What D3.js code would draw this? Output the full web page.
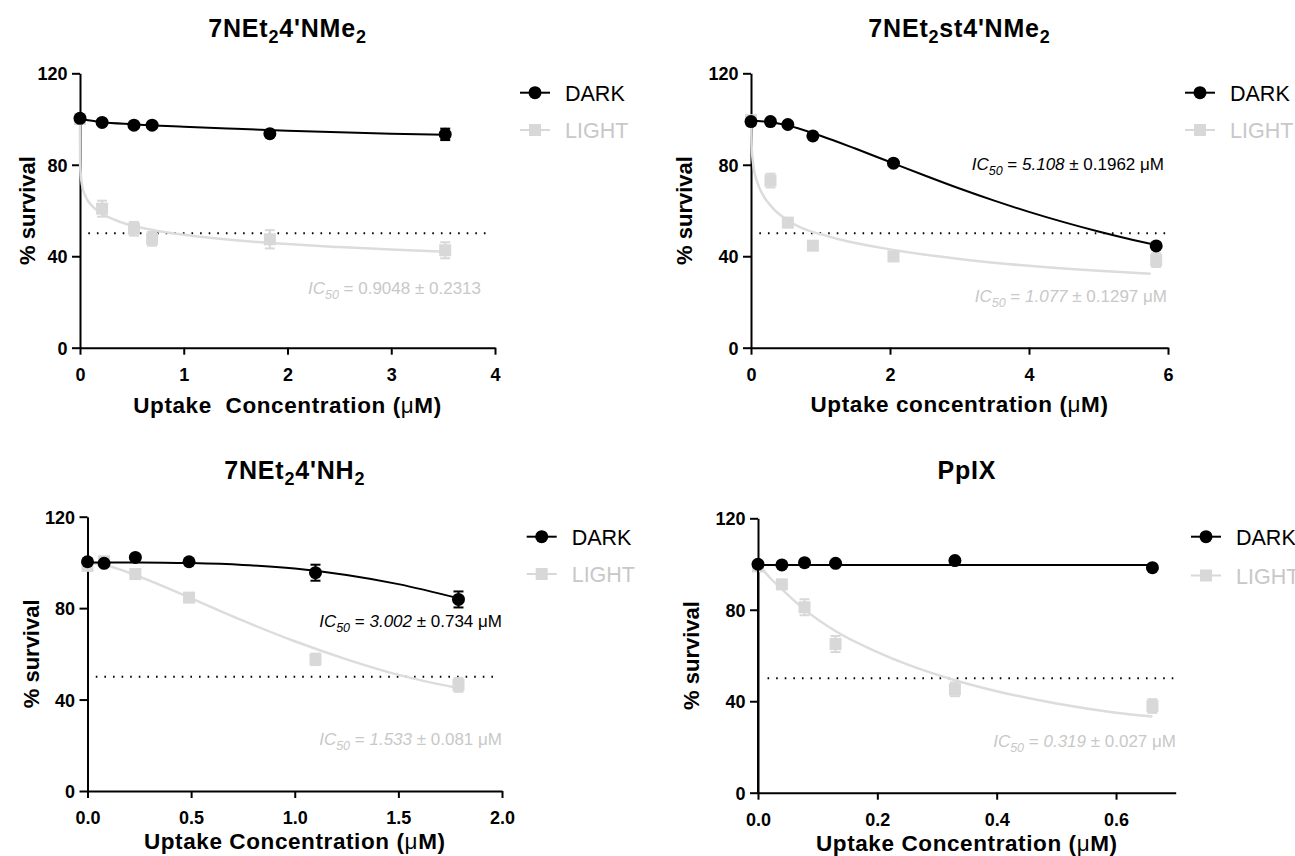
<!DOCTYPE html>
<html>
<head>
<meta charset="utf-8">
<style>
  body { margin: 0; background: #fff; }
  svg text { font-family: "Liberation Sans", Arial, sans-serif; }
</style>
</head>
<body>
<svg id="chart" width="1295" height="856"></svg>
<script src="https://cdnjs.cloudflare.com/ajax/libs/d3/7.8.5/d3.min.js"></script>
<script>
// ---- data ----
const seriesNames = ["DARK", "LIGHT"];
const yTickValues = [0, 40, 80, 120];

// 7NEt2 4'NMe2
const p1X = [0, 0.213, 0.52, 0.695, 1.83, 3.52];
const p1Dark = [100.3, 98.5, 97.3, 97.3, 93.6, 93.3];
const p1DarkErr = [0, 0, 0, 0, 1, 2.5];
const p1Light = [100, 60.8, 52.0, 47.6, 47.4, 42.6];
const p1LightErr = [0, 3.5, 3, 3, 4, 3.5];
const p1DarkFit = [[0, 100], [0.2, 98.7], [0.5, 97.7], [1, 96.6], [1.5, 95.7], [2, 94.9], [2.5, 94.2], [3, 93.6], [3.52, 93.1]];
const p1LightFit = [[0, 100], [0.0005, 85], [0.002, 80], [0.005, 77], [0.02, 71], [0.05, 66.5], [0.1, 62.8], [0.2, 59], [0.4, 54.8], [0.7, 51.5], [1, 49.4], [1.5, 47], [2, 45.3], [2.5, 44], [3, 42.9], [3.52, 42]];

// 7NEt2 st4'NMe2
const p2X = [0, 0.28, 0.53, 0.89, 2.05, 5.83];
const p2Dark = [98.9, 98.9, 97.6, 92.6, 80.7, 44.5];
const p2DarkErr = [0, 0, 0, 1, 1, 1];
const p2Light = [99.5, 73.1, 54.7, 44.6, 39.9, 38.3];
const p2LightErr = [0, 3, 2, 1.5, 1.5, 3];
const p2DarkFit = [[0, 99.5], [0.5, 97.4], [1, 92.7], [1.5, 87.1], [2, 81.2], [2.5, 75.3], [3, 69.6], [3.5, 64.3], [4, 59.4], [4.5, 54.9], [5, 50.8], [5.5, 47.1], [5.83, 44.9]];
const p2LightFit = [[0, 100], [0.01, 88], [0.033, 80], [0.1, 71.5], [0.177, 66.5], [0.3, 61.5], [0.514, 56], [0.8, 51.5], [1.077, 49], [1.28, 47.3], [2, 43], [3, 38.8], [4, 35.8], [5, 33.6], [5.75, 32.3]];

// 7NEt2 4'NH2
const p3X = [0, 0.08, 0.231, 0.49, 1.10, 1.79];
const p3Dark = [100.3, 99.6, 102.2, 100.3, 95.5, 83.8];
const p3DarkErr = [0, 0, 0, 0, 3.5, 3.5];
const p3Light = [98.5, 100.5, 94.9, 84.6, 57.6, 46.4];
const p3LightErr = [0, 0, 1.5, 1.5, 2.5, 3];
const p3DarkFit = [[0, 100], [0.25, 100], [0.5, 99.7], [0.75, 98.9], [1, 97.3], [1.25, 94.5], [1.5, 90.5], [1.79, 84.3]];
const p3LightFit = [[0, 100], [0.1, 98.4], [0.25, 93.8], [0.5, 84.3], [0.75, 74.5], [1, 65.5], [1.25, 57.6], [1.5, 50.8], [1.79, 45]];

// PpIX
const p4X = [0, 0.04, 0.078, 0.13, 0.33, 0.661];
const p4Dark = [99.9, 99.6, 100.6, 100.3, 101.5, 98.4];
const p4DarkErr = [0, 0, 0, 0, 0, 0];
const p4Light = [99, 91.1, 81.1, 65.0, 45.2, 37.9];
const p4LightErr = [0, 2, 3.5, 3.5, 3, 3];
const p4DarkFit = [[0, 0], [0, 99.6], [0.661, 99.6]];
const p4LightFit = [[0, 100], [0.02, 94], [0.04, 89], [0.076, 80.5], [0.131, 70.5], [0.2, 61.5], [0.25, 56.1], [0.33, 49.2], [0.4, 44.4], [0.5, 39], [0.6, 35], [0.661, 33.3]];

// labels
const titles = [
  [["7NEt", 0], ["2", 1], ["4'NMe", 0], ["2", 1]],
  [["7NEt", 0], ["2", 1], ["st4'NMe", 0], ["2", 1]],
  [["7NEt", 0], ["2", 1], ["4'NH", 0], ["2", 1]],
  [["PpIX", 0]]
];
const xTitles = ["Uptake  Concentration (", "Uptake concentration (", "Uptake Concentration (", "Uptake Concentration ("];
const xTickValues = [[0, 1, 2, 3, 4], [0, 2, 4, 6], [0, 0.5, 1, 1.5, 2], [0, 0.2, 0.4, 0.6]];
const ic50Dark = [null, "5.108", "3.002", null];
const ic50DarkErr = [null, "0.1962", "0.734", null];
const ic50Light = ["0.9048", "1.077", "1.533", "0.319"];
const ic50LightErr = ["0.2313", "0.1297", "0.081", "0.027"];
const ic50Unit = ["", " μM", " μM", " μM"];
const halfLine = [[0.08, 3.97], [0.12, 5.97], [0.04, 1.99], [0.016, 0.696]];

// ---- layout ----
const DARK = "#000", LIGHTC = "#d8d8d8", LIGHTLINE = "#dcdcdc", LIGHTTXT = "#c8c8c8";

const panels = [
  { left: 80, right: 495, top: 73.3, bottom: 347.7, dom: [0, 4], fmt: d3.format("d"),
    x: p1X, dark: p1Dark, darkErr: p1DarkErr, light: p1Light, lightErr: p1LightErr, darkFit: p1DarkFit, lightFit: p1LightFit,
    titleY: 37, xTitleY: 413, yTitleX: 35, legX: 535, legY: 92.7, legY2: 130,
    icDark: null, icLight: [481, 294], italic: false },
  { left: 751, right: 1168, top: 73.3, bottom: 347.7, dom: [0, 6], fmt: d3.format("d"),
    x: p2X, dark: p2Dark, darkErr: p2DarkErr, light: p2Light, lightErr: p2LightErr, darkFit: p2DarkFit, lightFit: p2LightFit,
    titleY: 37, xTitleY: 412, yTitleX: 692, legX: 1200, legY: 92.7, legY2: 130,
    icDark: [1164, 170], icLight: [1167, 301.5], italic: true },
  { left: 87.5, right: 502, top: 516.7, bottom: 791, dom: [0, 2], fmt: d3.format(".1f"),
    x: p3X, dark: p3Dark, darkErr: p3DarkErr, light: p3Light, lightErr: p3LightErr, darkFit: p3DarkFit, lightFit: p3LightFit,
    titleY: 479, xTitleY: 849, yTitleX: 39, legX: 541.7, legY: 536.7, legY2: 574,
    icDark: [502, 626.7], icLight: [502, 745], italic: true },
  { left: 758, right: 1175.7, top: 518.3, bottom: 792.7, dom: [0, 0.7], fmt: d3.format(".1f"),
    x: p4X, dark: p4Dark, darkErr: p4DarkErr, light: p4Light, lightErr: p4LightErr, darkFit: p4DarkFit, lightFit: p4LightFit,
    titleY: 479, xTitleY: 851, yTitleX: 699, legX: 1206, legY: 536.7, legY2: 575.5,
    icDark: null, icLight: [1176, 746.7], italic: true }
];

const svg = d3.select("#chart");

function curveFor(pts) {
  // a fit with a vertical jump can't go through monotoneX
  return pts.some((d, i) => i && d[0] === pts[i - 1][0]) ? d3.curveLinear : d3.curveMonotoneX;
}

function ic50Text(g, pos, val, err, unit, color, italic) {
  const t = g.append("text")
    .attr("x", pos[0]).attr("y", pos[1])
    .attr("text-anchor", "end")
    .style("font-size", "17px")
    .style("fill", color);
  t.append("tspan").style("font-style", "italic").text("IC");
  t.append("tspan").style("font-style", "italic").style("font-size", "12.5px").attr("dy", 5).text("50");
  t.append("tspan").attr("dy", -5).text(" = ");
  t.append("tspan").style("font-style", italic ? "italic" : "normal").text(val);
  t.append("tspan").text(" ± " + err + unit);
}

panels.forEach((p, i) => {
  const g = svg.append("g");
  const x = d3.scaleLinear().domain(p.dom).range([p.left, p.right]);
  const y = d3.scaleLinear().domain([0, 120]).range([p.bottom, p.top]);

  // title
  const tt = g.append("text")
    .attr("x", (p.left + p.right) / 2).attr("y", p.titleY)
    .attr("text-anchor", "middle")
    .style("font-size", "25px").style("font-weight", "bold")
    .style("letter-spacing", "0.8px");
  let down = false;
  titles[i].forEach(part => {
    const s = tt.append("tspan").text(part[0]);
    if (part[1] && !down) { s.attr("dy", 6).style("font-size", "18px"); down = true; }
    else if (!part[1] && down) { s.attr("dy", -6); down = false; }
  });

  // axes
  const xAxis = d3.axisBottom(x).tickValues(xTickValues[i]).tickFormat(p.fmt).tickSize(7).tickSizeOuter(0);
  const yAxis = d3.axisLeft(y).tickValues(yTickValues).tickSize(8).tickSizeOuter(0);
  const gx = g.append("g").attr("transform", `translate(0,${p.bottom})`).call(xAxis);
  const gy = g.append("g").attr("transform", `translate(${p.left},0)`).call(yAxis);
  [gx, gy].forEach(a => {
    a.select(".domain").attr("stroke", "#000").attr("stroke-width", 2);
    a.selectAll(".tick line").attr("stroke", "#000").attr("stroke-width", 2);
    a.selectAll(".tick text").attr("fill", "#000")
      .style("font-size", "18px").style("font-weight", "bold")
      .style("font-family", "'Liberation Sans', Arial, sans-serif");
  });
  gx.selectAll(".tick text").attr("y", 33).attr("dy", 0);
  gy.selectAll(".tick text").attr("x", -12.5).attr("dy", "0.36em");

  // axis titles
  const xt = g.append("text")
    .attr("x", (p.left + p.right) / 2).attr("y", p.xTitleY)
    .attr("text-anchor", "middle")
    .attr("xml:space", "preserve")
    .style("white-space", "pre")
    .style("font-size", "22.5px").style("font-weight", "bold")
    .style("letter-spacing", "0.6px");
  xt.append("tspan").text(xTitles[i]);
  xt.append("tspan").style("font-weight", "normal").text("μ");
  xt.append("tspan").text("M)");

  g.append("text")
    .attr("transform", `translate(${p.yTitleX},${(p.top + p.bottom) / 2}) rotate(-90)`)
    .attr("text-anchor", "middle")
    .style("font-size", "22px").style("font-weight", "bold")
    .text("% survival");

  // 50 % reference
  g.append("line")
    .attr("x1", x(halfLine[i][0])).attr("x2", x(halfLine[i][1]))
    .attr("y1", y(50)).attr("y2", y(50))
    .attr("stroke", "#000").attr("stroke-width", 2)
    .attr("stroke-dasharray", "1.6 7");

  const line = d3.line().x(d => x(d[0])).y(d => y(d[1]));

  // LIGHT series (drawn first, under DARK)
  g.append("path").datum(p.lightFit)
    .attr("d", line.curve(curveFor(p.lightFit)))
    .attr("fill", "none").attr("stroke", LIGHTLINE).attr("stroke-width", 2.5);
  const lightPts = p.x.map((v, k) => ({ x: v, y: p.light[k], e: p.lightErr[k] }));
  const darkPts = p.x.map((v, k) => ({ x: v, y: p.dark[k], e: p.darkErr[k] }));

  function errorBars(pts, color) {
    const eg = g.append("g").attr("stroke", color).attr("stroke-width", 2);
    pts.filter(d => d.e > 0).forEach(d => {
      eg.append("line").attr("x1", x(d.x)).attr("x2", x(d.x)).attr("y1", y(d.y - d.e)).attr("y2", y(d.y + d.e));
      [d.y - d.e, d.y + d.e].forEach(v => {
        eg.append("line").attr("x1", x(d.x) - 5).attr("x2", x(d.x) + 5).attr("y1", y(v)).attr("y2", y(v));
      });
    });
  }

  errorBars(lightPts, LIGHTC);
  g.selectAll(null).data(lightPts).enter().append("rect")
    .attr("x", d => x(d.x) - 6).attr("y", d => y(d.y) - 6)
    .attr("width", 12).attr("height", 12)
    .attr("fill", LIGHTC);

  // DARK series
  g.append("path").datum(p.darkFit)
    .attr("d", line.curve(curveFor(p.darkFit)))
    .attr("fill", "none").attr("stroke", DARK).attr("stroke-width", 2);
  errorBars(darkPts, DARK);
  g.selectAll(null).data(darkPts).enter().append("circle")
    .attr("cx", d => x(d.x)).attr("cy", d => y(d.y)).attr("r", 6.5)
    .attr("fill", DARK);

  // IC50 annotations
  if (p.icDark) ic50Text(g, p.icDark, ic50Dark[i], ic50DarkErr[i], ic50Unit[i], "#000", p.italic);
  ic50Text(g, p.icLight, ic50Light[i], ic50LightErr[i], ic50Unit[i], LIGHTTXT, p.italic);

  // legend
  const leg = g.append("g");
  [[p.legY, DARK], [p.legY2, LIGHTC]].forEach((r, k) => {
    leg.append("line").attr("x1", p.legX - 15).attr("x2", p.legX + 15)
      .attr("y1", r[0]).attr("y2", r[0]).attr("stroke", r[1]).attr("stroke-width", 2);
    if (k === 0) leg.append("circle").attr("cx", p.legX).attr("cy", r[0]).attr("r", 6.5).attr("fill", r[1]);
    else leg.append("rect").attr("x", p.legX - 6).attr("y", r[0] - 6).attr("width", 12).attr("height", 12).attr("fill", r[1]);
    leg.append("text").attr("x", p.legX + 30).attr("y", r[0] + 8)
      .style("font-size", "21.5px").style("fill", k === 0 ? "#000" : LIGHTTXT)
      .text(seriesNames[k]);
  });
});
</script>
</body>
</html>
